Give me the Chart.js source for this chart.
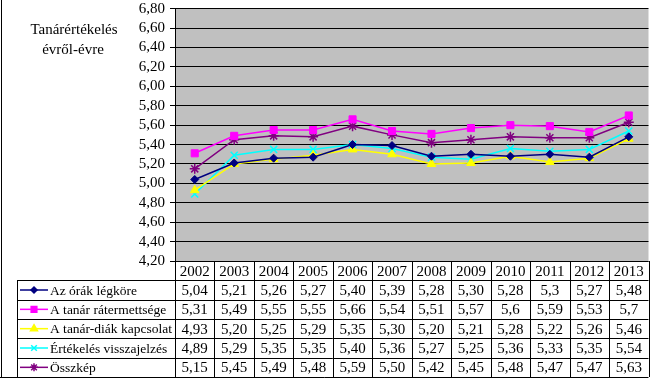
<!DOCTYPE html>
<html>
<head>
<meta charset="utf-8">
<script src="https://cdn.jsdelivr.net/npm/chart.js@4/dist/chart.umd.min.js"></script>
<style>
  html, body { margin: 0; padding: 0; background: #fff; }
  #wrap { width: 655px; height: 380px; }
</style>
</head>
<body>
<div id="wrap"><canvas id="myChart" width="655" height="380"></canvas></div>
<script>
const years = ["2002","2003","2004","2005","2006","2007","2008","2009","2010","2011","2012","2013"];

// values as they stand in the data table
const legkore      = ["5,04","5,21","5,26","5,27","5,40","5,39","5,28","5,30","5,28","5,3","5,27","5,48"];
const ratermettseg = ["5,31","5,49","5,55","5,55","5,66","5,54","5,51","5,57","5,6","5,59","5,53","5,7"];
const kapcsolat    = ["4,93","5,20","5,25","5,29","5,35","5,30","5,20","5,21","5,28","5,22","5,26","5,46"];
const visszajelzes = ["4,89","5,29","5,35","5,35","5,40","5,36","5,27","5,25","5,36","5,33","5,35","5,54"];
const osszkep      = ["5,15","5,45","5,49","5,48","5,59","5,50","5,42","5,45","5,48","5,47","5,47","5,63"];

const seriesNames = ["Az órák légköre","A tanár rátermettsége","A tanár-diák kapcsolat","Értékelés visszajelzés","Összkép"];
const seriesText = [legkore, ratermettseg, kapcsolat, visszajelzes, osszkep];

const yMin = 4.2, yMax = 6.8, yStep = 0.2;
const titleLines = ["Tanárértékelés","évről-évre"];

const FONT = "'Liberation Serif', 'Times New Roman', serif";

function toNum(s) { return parseFloat(s.replace(",", ".")); }

const styles = [
  {color: "#000080", point: "rectRot", radius: 4},
  {color: "#FF00FF", point: "rect", radius: 5},
  {color: "#FFFF00", point: "triangle", radius: 5},
  {color: "#00FFFF", point: "crossRot", radius: 5},
  {color: "#800080", point: "star", radius: 5}
];

const datasets = seriesNames.map((name, i) => ({
  label: name,
  data: seriesText[i].map(toNum),
  borderColor: styles[i].color,
  backgroundColor: styles[i].color,
  pointStyle: styles[i].point,
  pointRadius: styles[i].radius,
  pointBorderWidth: styles[i].point.indexOf("cross") === 0 || styles[i].point === "star" ? 1.5 : 1,
  borderWidth: 1.5,
  tension: 0,
  fill: false
}));

const plotBg = {
  id: "plotBg",
  beforeDraw(chart) {
    const a = chart.chartArea, ctx = chart.ctx;
    ctx.save();
    ctx.fillStyle = "#C0C0C0";
    ctx.fillRect(a.left, a.top, a.right - a.left, a.bottom - a.top);
    ctx.restore();
  }
};

const dataTable = {
  id: "dataTable",
  afterDraw(chart) {
    const ctx = chart.ctx, a = chart.chartArea, x = chart.scales.x;
    const top = a.bottom, bottom = 377, rowH = (bottom - top) / 6;
    const colW = (a.right - a.left) / years.length;
    const legLeft = 17;
    ctx.save();
    ctx.strokeStyle = "#000";
    ctx.lineWidth = 1;
    ctx.beginPath();
    // horizontal lines
    ctx.moveTo(a.left, Math.round(top) + 0.5); ctx.lineTo(a.right, Math.round(top) + 0.5);
    for (let r = 1; r <= 6; r++) {
      const y = Math.round(top + r * rowH) + 0.5;
      ctx.moveTo(r === 6 ? 0 : legLeft, y); ctx.lineTo(a.right, y);
    }
    // vertical lines
    for (let c = 0; c <= years.length; c++) {
      const xx = Math.round(a.left + c * colW) + 0.5;
      ctx.moveTo(xx, top); ctx.lineTo(xx, bottom);
    }
    ctx.moveTo(legLeft + 0.5, top + rowH); ctx.lineTo(legLeft + 0.5, bottom);
    // outer left edge
    ctx.moveTo(1.5, 0); ctx.lineTo(1.5, bottom + 1);
    ctx.stroke();

    ctx.fillStyle = "#000";
    ctx.textBaseline = "middle";
    ctx.textAlign = "center";
    ctx.font = "15px " + FONT;
    years.forEach((yr, c) => {
      ctx.fillText(yr, x.getPixelForValue(c), top + rowH / 2 + 1);
    });
    seriesText.forEach((vals, r) => {
      const cy = top + (r + 1.5) * rowH + 1;
      vals.forEach((v, c) => ctx.fillText(v, x.getPixelForValue(c), cy));
    });
    // legend keys
    ctx.textAlign = "left";
    ctx.font = "13.5px " + FONT;
    seriesNames.forEach((name, r) => {
      const cy = top + (r + 1.5) * rowH;
      ctx.strokeStyle = styles[r].color;
      ctx.lineWidth = 1.5;
      ctx.beginPath();
      ctx.moveTo(20, cy); ctx.lineTo(48, cy);
      ctx.stroke();
      ctx.fillStyle = styles[r].color;
      Chart.helpers.drawPoint(ctx, {
        pointStyle: styles[r].point,
        radius: styles[r].radius - 1,
        rotation: 0,
        borderWidth: 1.5
      }, 34, cy);
      ctx.fillStyle = "#000";
      ctx.fillText(name, 50, cy + 1);
    });
    // title
    ctx.textAlign = "center";
    ctx.font = "15px " + FONT;
    ctx.fillText(titleLines[0], 74, 30);
    ctx.fillText(titleLines[1], 73, 50);
    ctx.restore();
  }
};

const chart = new Chart("myChart", {
  type: "line",
  data: { labels: years, datasets: datasets },
  options: {
    responsive: false,
    animation: false,
    layout: { padding: { left: 0, top: 0, right: 4, bottom: 119 } },
    plugins: {
      legend: { display: false },
      tooltip: { enabled: false }
    },
    scales: {
      x: {
        display: false,
        offset: true
      },
      y: {
        min: yMin,
        max: yMax,
        afterFit(scale) { scale.width = 175; },
        ticks: {
          stepSize: yStep,
          autoSkip: false,
          color: "#000",
          padding: 5,
          font: { family: FONT, size: 15, lineHeight: 0.5 },
          callback: v => v.toFixed(2).replace(".", ",")
        },
        grid: { color: "#000", tickLength: 5, tickColor: "#000", lineWidth: 1 },
        border: { color: "#000" }
      }
    }
  },
  plugins: [plotBg, dataTable]
});
</script>
</body>
</html>
